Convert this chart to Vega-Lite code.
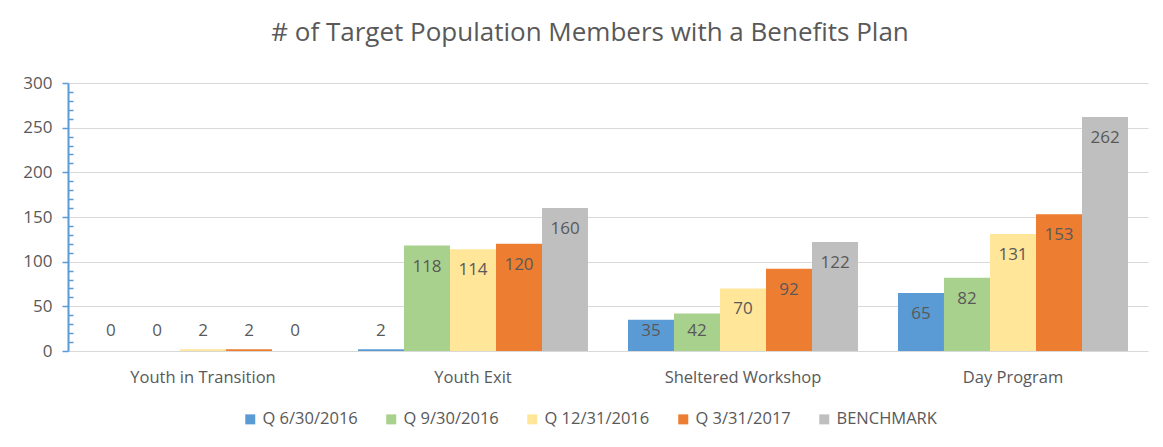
{
  "$schema": "https://vega.github.io/schema/vega-lite/v6.json",
  "width": 1080,
  "height": 268,
  "autosize": {"type": "none"},
  "padding": {"left": 68, "top": 83, "right": 15, "bottom": 96},
  "background": "white",
  "title": {
    "text": "# of Target Population Members with a Benefits Plan",
    "fontSize": 26,
    "font": "Open Sans",
    "fontWeight": "normal",
    "color": "#595959",
    "offset": 28,
    "dx": -18,
    "anchor": "middle",
    "frame": "group"
  },
  "data": {
    "values": [
      {"category": "Youth in Transition", "series": "Q 6/30/2016", "value": 0},
      {"category": "Youth in Transition", "series": "Q 9/30/2016", "value": 0},
      {"category": "Youth in Transition", "series": "Q 12/31/2016", "value": 2},
      {"category": "Youth in Transition", "series": "Q 3/31/2017", "value": 2},
      {"category": "Youth in Transition", "series": "BENCHMARK", "value": 0},
      {"category": "Youth Exit", "series": "Q 6/30/2016", "value": 2},
      {"category": "Youth Exit", "series": "Q 9/30/2016", "value": 118},
      {"category": "Youth Exit", "series": "Q 12/31/2016", "value": 114},
      {"category": "Youth Exit", "series": "Q 3/31/2017", "value": 120},
      {"category": "Youth Exit", "series": "BENCHMARK", "value": 160},
      {"category": "Sheltered Workshop", "series": "Q 6/30/2016", "value": 35},
      {"category": "Sheltered Workshop", "series": "Q 9/30/2016", "value": 42},
      {"category": "Sheltered Workshop", "series": "Q 12/31/2016", "value": 70},
      {"category": "Sheltered Workshop", "series": "Q 3/31/2017", "value": 92},
      {"category": "Sheltered Workshop", "series": "BENCHMARK", "value": 122},
      {"category": "Day Program", "series": "Q 6/30/2016", "value": 65},
      {"category": "Day Program", "series": "Q 9/30/2016", "value": 82},
      {"category": "Day Program", "series": "Q 12/31/2016", "value": 131},
      {"category": "Day Program", "series": "Q 3/31/2017", "value": 153},
      {"category": "Day Program", "series": "BENCHMARK", "value": 262}
    ]
  },
  "encoding": {
    "x": {
      "field": "category",
      "type": "nominal",
      "sort": ["Youth in Transition", "Youth Exit", "Sheltered Workshop", "Day Program"],
      "scale": {"paddingInner": 0.148, "paddingOuter": 0.074},
      "axis": {
        "title": null,
        "labelAngle": 0,
        "ticks": false,
        "labelPadding": 18,
        "labelFontSize": 16.5,
        "labelColor": "#595959",
        "domainColor": "#D9D9D9",
        "domainWidth": 1,
        "grid": false
      }
    },
    "xOffset": {
      "field": "series",
      "type": "nominal",
      "sort": ["Q 6/30/2016", "Q 9/30/2016", "Q 12/31/2016", "Q 3/31/2017", "BENCHMARK"],
      "scale": {"paddingInner": 0, "paddingOuter": 0}
    }
  },
  "layer": [
    {
      "mark": {"type": "bar"},
      "encoding": {
        "y": {
          "field": "value",
          "type": "quantitative",
          "scale": {"domain": [0, 300], "nice": false},
          "axis": {
            "title": null,
            "values": [0, 10, 20, 30, 40, 50, 60, 70, 80, 90, 100, 110, 120, 130, 140, 150, 160, 170, 180, 190, 200, 210, 220, 230, 240, 250, 260, 270, 280, 290, 300],
            "tickCount": 60,
            "labelExpr": "datum.value % 50 === 0 ? datum.label : ''",
            "labelOverlap": false,
            "labelFontSize": 17,
            "labelColor": "#595959",
            "labelPadding": 10,
            "domainColor": "#5B9BD5",
            "domainWidth": 2,
            "tickColor": "#5B9BD5",
            "tickWidth": 1.5,
            "tickSize": {"condition": {"test": "datum.value % 50 === 0", "value": 6}, "value": -5},
            "grid": true,
            "gridColor": "#D9D9D9",
            "gridWidth": 1,
            "gridOpacity": {"condition": {"test": "datum.value % 50 === 0 && datum.value > 0", "value": 1}, "value": 0}
          }
        },
        "color": {
          "field": "series",
          "type": "nominal",
          "sort": ["Q 6/30/2016", "Q 9/30/2016", "Q 12/31/2016", "Q 3/31/2017", "BENCHMARK"],
          "scale": {
            "domain": ["Q 6/30/2016", "Q 9/30/2016", "Q 12/31/2016", "Q 3/31/2017", "BENCHMARK"],
            "range": ["#5B9BD5", "#A9D18E", "#FFE699", "#ED7D31", "#BFBFBF"]
          },
          "legend": {
            "orient": "none",
            "legendX": 174,
            "legendY": 328,
            "direction": "horizontal",
            "title": null,
            "symbolType": "square",
            "symbolSize": 100,
            "symbolStrokeWidth": 0,
            "labelFontSize": 16.5,
            "labelColor": "#595959",
            "columnPadding": 25,
            "labelOffset": 4
          }
        }
      }
    },
    {
      "transform": [{"filter": "datum.value >= 46"}],
      "mark": {"type": "text", "dy": 21, "baseline": "middle", "fontSize": 17, "color": "#595959"},
      "encoding": {
        "y": {"field": "value", "type": "quantitative"},
        "text": {"field": "value", "type": "quantitative"}
      }
    },
    {
      "transform": [{"filter": "datum.value < 46"}],
      "mark": {"type": "text", "baseline": "middle", "fontSize": 17, "color": "#595959"},
      "encoding": {
        "y": {"datum": 22.5, "type": "quantitative"},
        "text": {"field": "value", "type": "quantitative"}
      }
    }
  ],
  "config": {
    "font": "Open Sans",
    "view": {"stroke": null}
  }
}
